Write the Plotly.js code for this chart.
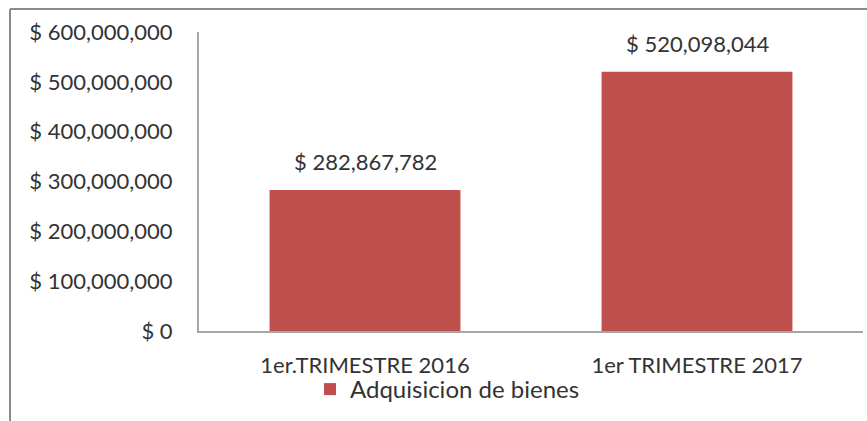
<!DOCTYPE html>
<html>
<head>
<meta charset="utf-8">
<script src="https://cdn.plot.ly/plotly-3.0.1.min.js"></script>
<style>html,body{margin:0;padding:0;background:#fff;}#chart{width:867px;height:421px;}</style>
</head>
<body>
<div id="chart"></div>
<script>
const categories = ["1er.TRIMESTRE 2016", "1er TRIMESTRE 2017"];
const values = [282867782, 520098044];
const seriesName = "Adquisicion de bienes";
const yTicks = [0, 100000000, 200000000, 300000000, 400000000, 500000000, 600000000];

const textColor = "#333333";
const fontFam = "Lato, 'Open Sans', sans-serif";
const money = v => "$ " + v.toLocaleString("en-US");

const trace = {
  type: "bar",
  x: categories,
  y: values,
  name: seriesName,
  marker: {color: "#C0504D"},
  showlegend: true
};

const annotations = categories.map((c, i) => ({
  x: c, y: values[i], xref: "x", yref: "y",
  text: money(values[i]),
  showarrow: false, yanchor: "bottom", yshift: 13,
  font: {family: fontFam, size: 22, color: textColor}
}));

// outer chart border (top and left)
const L = 199, R = 863, T = 32, B = 331;
const px = v => (v - L) / (R - L);
const py = v => (B - v) / (B - T);
const shapes = [
  {type: "line", xref: "paper", yref: "paper", x0: px(10), x1: px(870), y0: py(9), y1: py(9), line: {color: "#8a8a8a", width: 2}},
  {type: "line", xref: "paper", yref: "paper", x0: px(10), x1: px(10), y0: py(9), y1: py(425), line: {color: "#8a8a8a", width: 2}}
];

const layout = {
  width: 867, height: 421,
  margin: {l: 199, r: 4, t: 32, b: 90},
  paper_bgcolor: "#fff", plot_bgcolor: "#fff",
  bargap: 0.425,
  font: {family: fontFam, size: 22, color: textColor},
  xaxis: {
    showline: true, linecolor: "#a6a6a6", linewidth: 2,
    ticks: "outside", ticklen: 14, tickcolor: "rgba(0,0,0,0)",
    tickfont: {family: fontFam, size: 22, color: textColor},
    showgrid: false, zeroline: false
  },
  yaxis: {
    range: [0, 600000000],
    tickmode: "array",
    tickvals: yTicks,
    ticktext: yTicks.map(money),
    showline: true, linecolor: "#a6a6a6", linewidth: 2,
    ticks: "outside", ticklen: 20, tickcolor: "rgba(0,0,0,0)",
    tickfont: {family: fontFam, size: 22, color: textColor},
    showgrid: false, zeroline: false
  },
  showlegend: true,
  legend: {
    orientation: "h", x: px(310), xanchor: "left", y: py(367), yanchor: "top",
    font: {family: fontFam, size: 24, color: textColor},
    itemwidth: 30, bgcolor: "rgba(0,0,0,0)"
  },
  annotations: annotations,
  shapes: shapes
};

Plotly.newPlot("chart", [trace], layout, {displayModeBar: false, staticPlot: true});
</script>
</body>
</html>
